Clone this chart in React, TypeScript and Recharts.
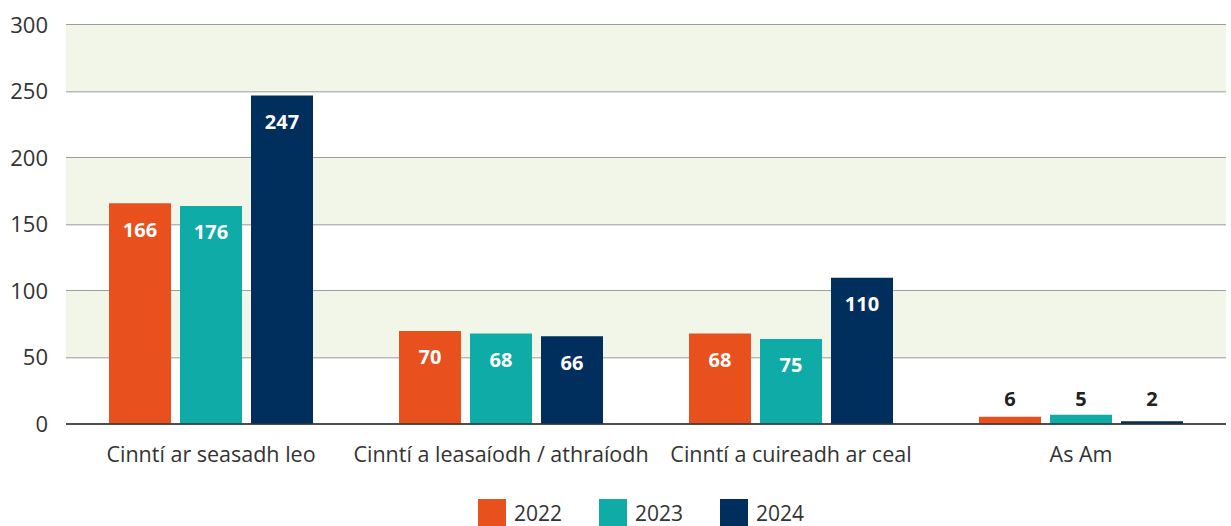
import { Bar, BarChart, CartesianGrid, LabelList, Legend, ReferenceArea, XAxis, YAxis } from "recharts";

const categories = [
  "Cinntí ar seasadh leo",
  "Cinntí a leasaíodh / athraíodh",
  "Cinntí a cuireadh ar ceal",
  "As Am",
];

// bar heights as drawn in the source picture
const values2022 = [166, 70, 68, 5.5];
const values2023 = [164, 68, 64, 7];
const values2024 = [247, 66, 110, 2];

// labels printed on the bars
const labels2022 = [166, 70, 68, 6];
const labels2023 = [176, 68, 75, 5];
const labels2024 = [247, 66, 110, 2];

const years = ["2022", "2023", "2024"];
const yTicks = [0, 50, 100, 150, 200, 250, 300];
const bands = [
  [50, 100],
  [150, 200],
  [250, 300],
];

const COLORS = ["#E8501E", "#0EABA7", "#002E5D"];
const FONT = "'Open Sans', sans-serif";

const data = categories.map((name, i) => ({
  name,
  v2022: values2022[i],
  v2023: values2023[i],
  v2024: values2024[i],
  l2022: labels2022[i],
  l2023: labels2023[i],
  l2024: labels2024[i],
}));

const BarLabel = (props: any) => {
  const { x, y, width, height, value } = props;
  const inside = height > 30;
  const cx = x + width / 2;
  const cy = inside ? y + 26 : y + height - 26;
  return (
    <text
      x={cx}
      y={cy}
      textAnchor="middle"
      dominantBaseline="central"
      fill={inside ? "#ffffff" : "#222222"}
      fontFamily={FONT}
      fontWeight={700}
      fontSize={20}
    >
      {value}
    </text>
  );
};

const LegendContent = () => (
  <div
    style={{
      display: "flex",
      justifyContent: "center",
      paddingTop: 15,
      paddingLeft: 56,
      height: 27,
      fontFamily: FONT,
      fontSize: 21,
      color: "#333",
    }}
  >
    {years.map((year, i) => (
      <div key={year} style={{ display: "flex", alignItems: "center", marginRight: i < 2 ? 37 : 0 }}>
        <div style={{ width: 28, height: 28, background: COLORS[i], marginRight: 8 }} />
        <span style={{ lineHeight: "28px" }}>{year}</span>
      </div>
    ))}
  </div>
);

export default function App() {
  return (
    <div style={{ position: "absolute", left: 0, top: 0 }}>
      <BarChart
        width={1231}
        height={526}
        data={data}
        margin={{ top: 25, right: 5, left: 0, bottom: 0 }}
        barCategoryGap={43}
        barGap={9}
      >
        {bands.map(([y1, y2]) => (
          <ReferenceArea key={y1} y1={y1} y2={y2} fill="#F2F6E8" fillOpacity={1} stroke="none" ifOverflow="hidden" />
        ))}
        <CartesianGrid vertical={false} stroke="#7c7c7c" strokeWidth={1.5} />
        <XAxis
          dataKey="name"
          height={60}
          tickLine={false}
          tickSize={0}
          tickMargin={23}
          axisLine={{ stroke: "#333", strokeWidth: 1.5 }}
          tick={{ fill: "#333", fontFamily: FONT, fontSize: 21.5 }}
          interval={0}
        />
        <YAxis
          width={66}
          domain={[0, 300]}
          ticks={yTicks}
          tickLine={false}
          axisLine={false}
          tickSize={0}
          tickMargin={18}
          tick={{ fill: "#333", fontFamily: FONT, fontSize: 22 }}
        />
        <Legend verticalAlign="bottom" content={<LegendContent />} />
        <Bar dataKey="v2022" name="2022" fill={COLORS[0]} isAnimationActive={false}>
          <LabelList dataKey="l2022" content={<BarLabel />} />
        </Bar>
        <Bar dataKey="v2023" name="2023" fill={COLORS[1]} isAnimationActive={false}>
          <LabelList dataKey="l2023" content={<BarLabel />} />
        </Bar>
        <Bar dataKey="v2024" name="2024" fill={COLORS[2]} isAnimationActive={false}>
          <LabelList dataKey="l2024" content={<BarLabel />} />
        </Bar>
      </BarChart>
    </div>
  );
}
